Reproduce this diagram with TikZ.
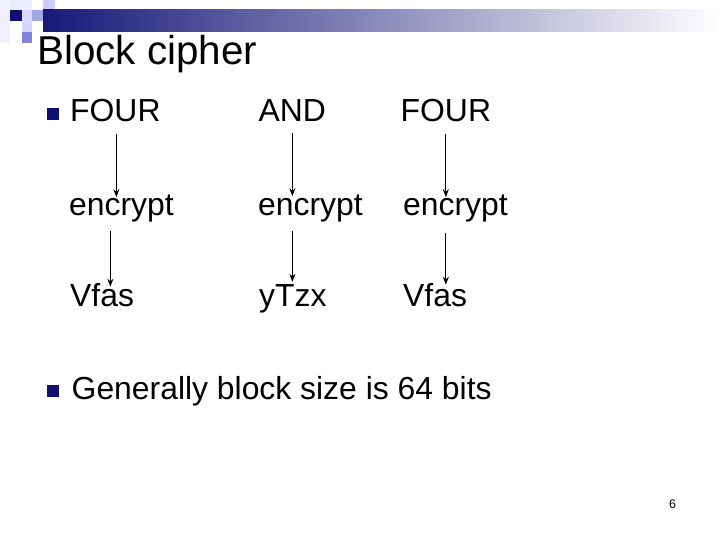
\documentclass[tikz,border=0pt]{standalone}
\usepackage{fontspec}
\setmainfont{Liberation Sans}
\usetikzlibrary{arrows.meta,calc}
\definecolor{navy}{RGB}{16,16,112}
\definecolor{barleft}{RGB}{24,24,120}
\begin{document}
\begin{tikzpicture}[x=1bp,y=-1bp,>={Stealth[length=8bp,width=6bp]},
    line cap=butt,
    word/.style={anchor=base west,inner sep=0pt,font=\fontsize{32}{38}\selectfont},
    flow/.style={->,line width=1pt},
    bullet/.style={fill=navy}]
    \useasboundingbox[fill=white] (0,0) rectangle (720,540);

    % The squares and the fading bar of the slide head.
    \fill[black!4!blue!6] (0,0) rectangle (10,43);
    \fill[black!4!blue!8] (10,0) rectangle (32,10);
    \fill[navy] (10,10) rectangle (22,21);
    \fill[blue!15!white] (22,10) rectangle (32,21);
    \fill[blue!28!white!90!black] (32,10) rectangle (43,21);
    \fill[blue!20!white] (43,0) rectangle (55,10);
    \fill[blue!16!white] (22,21) rectangle (32,32);
    \fill[blue!40!white!85!black] (22,32) rectangle (32,43);
    \shade[left color=barleft,right color=white] (43,10) rectangle (720,32);

    \node[anchor=base west,inner sep=0pt,font=\fontsize{40.5}{48}\selectfont]
      (title) at (37,65) {Block cipher};

    % First bullet: three words, each one encrypted on its own.
    \fill[bullet] (47,108) rectangle (59,120);
    \node[word] (four1) at (70,122) {FOUR};
    \node[word] (and2)  at (258.5,122) {AND};
    \node[word] (four3) at (400.5,122) {FOUR};
    \node[word] (enc1) at (69,216) {encrypt};
    \node[word] (enc2) at (258,216) {encrypt};
    \node[word] (enc3) at (403,216) {encrypt};
    \node[word] (out1) at (70,306) {Vfas};
    \node[word] (out2) at (259,306) {yTzx};
    \node[word] (out3) at (403,306) {Vfas};

    \draw[flow] ($(four1.south)+(1,11)$) -- ($(four1.south |- enc1.north)+(1,2)$);
    \draw[flow] ($(and2.south)+(0,11)$) -- ($(and2.south |- enc2.north)+(0,1)$);
    \draw[flow] ($(four3.south)+(0,11)$) -- ($(four3.south |- enc3.north)+(0,2)$);
    \draw[flow] ($(four1.south |- enc1.south)+(-5,8)$) -- ($(four1.south |- out1.north)+(-5,4)$);
    \draw[flow] ($(and2.south |- enc2.south)+(0,8)$) -- ($(and2.south |- out2.north)+(0,-2)$);
    \draw[flow] ($(four3.south |- enc3.south)+(0,10)$) -- ($(four3.south |- out3.north)+(0,2)$);

    % Second bullet.
    \fill[bullet] (47,385) rectangle (59,397);
    \node[word] (size) at (71.5,399) {Generally block size is 64 bits};

    \node[anchor=base west,inner sep=0pt,font=\fontsize{12.5}{14}\selectfont]
      (pageno) at (669,508) {6};
  \end{tikzpicture}
\end{document}
